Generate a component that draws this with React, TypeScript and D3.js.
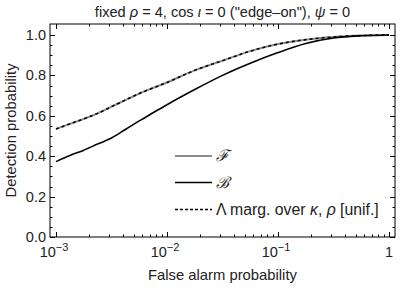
import React, { useEffect, useRef } from "react";
import * as d3 from "d3";

// log10 of the false alarm probability where curves were read
const logFap = [-3, -2.875, -2.75, -2.625, -2.5, -2.375, -2.25, -2.125, -2, -1.75, -1.5, -1.25, -1, -0.75, -0.5, -0.25, 0];
const fStat = [0.535, 0.56, 0.585, 0.612, 0.645, 0.678, 0.71, 0.738, 0.765, 0.825, 0.873, 0.92, 0.955, 0.977, 0.99, 0.997, 1.0];
const bStat = [0.373, 0.403, 0.43, 0.46, 0.49, 0.532, 0.575, 0.615, 0.655, 0.73, 0.8, 0.86, 0.913, 0.958, 0.985, 0.996, 1.0];
const lambdaStat = [0.535, 0.56, 0.585, 0.612, 0.645, 0.678, 0.71, 0.738, 0.765, 0.825, 0.873, 0.92, 0.955, 0.977, 0.99, 0.997, 1.0];

const yTicks = [0, 0.2, 0.4, 0.6, 0.8, 1.0];
const xTicks = [1e-3, 1e-2, 1e-1, 1];
const xTickExp = ["-3", "-2", "-1", ""];

function App() {
  const ref = useRef<SVGSVGElement>(null);
  useEffect(() => {
    const svg = d3.select(ref.current);
    svg.selectAll("*").remove();
    const font = "'Liberation Sans', Arial, sans-serif";
    const left = 50, right = 395, top = 24, bottom = 237;

    const x = d3.scaleLog().domain([1e-3, 1]).range([56, 389]);
    const y = d3.scaleLinear().domain([0, 1]).range([237, 35]);

    const g = svg.append("g");

    // frame
    g.append("rect")
      .attr("x", left).attr("y", top)
      .attr("width", right - left).attr("height", bottom - top)
      .attr("fill", "none").attr("stroke", "#000").attr("stroke-width", 1);

    // x ticks (bottom and top), inward
    const minorX: number[] = [];
    for (let e = -3; e < 0; e++) {
      for (let k = 2; k <= 9; k++) minorX.push(k * Math.pow(10, e));
    }
    [...xTicks.map(v => [v, 5]), ...minorX.map(v => [v, 2.5])].forEach(([v, len]) => {
      const px = Math.round(x(v)) + 0.5;
      g.append("line").attr("x1", px).attr("x2", px).attr("y1", bottom).attr("y2", bottom - len)
        .attr("stroke", "#000").attr("stroke-width", 1);
      g.append("line").attr("x1", px).attr("x2", px).attr("y1", top).attr("y2", top + len)
        .attr("stroke", "#000").attr("stroke-width", 1);
    });

    // y ticks (left and right), inward
    d3.range(0, 1.0001, 0.05).forEach(v => {
      const major = Math.abs(v * 5 - Math.round(v * 5)) < 1e-6;
      const len = major ? 5 : 2.5;
      const py = Math.round(y(v)) + 0.5;
      g.append("line").attr("x1", left).attr("x2", left + len).attr("y1", py).attr("y2", py)
        .attr("stroke", "#000");
      g.append("line").attr("x1", right).attr("x2", right - len).attr("y1", py).attr("y2", py)
        .attr("stroke", "#000");
    });

    // y tick labels
    yTicks.forEach(v => {
      g.append("text").attr("x", left - 4).attr("y", y(v) + 5)
        .attr("text-anchor", "end").attr("font-family", font).attr("font-size", 14.5)
        .attr("fill", "#222").text(v.toFixed(1));
    });

    // x tick labels
    xTicks.forEach((v, i) => {
      const t = g.append("text").attr("y", 257).attr("font-family", font).attr("font-size", 14.5)
        .attr("fill", "#222");
      if (xTickExp[i]) {
        t.attr("x", x(v) - 2).attr("text-anchor", "middle");
        t.append("tspan").text("10");
        t.append("tspan").attr("dy", -6).attr("font-size", 11).text("\u2212" + xTickExp[i].slice(1));
      } else {
        t.attr("x", x(v)).attr("text-anchor", "middle").text("1");
      }
    });

    // axis labels and title
    g.append("text").attr("x", (left + right) / 2).attr("y", 280)
      .attr("text-anchor", "middle").attr("font-family", font).attr("font-size", 14.8)
      .attr("fill", "#222").text("False alarm probability");
    g.append("text").attr("transform", `translate(16, ${(top + bottom) / 2}) rotate(-90)`)
      .attr("text-anchor", "middle").attr("font-family", font).attr("font-size", 14.8)
      .attr("fill", "#222").text("Detection probability");
    const title = g.append("text").attr("x", (left + right) / 2).attr("y", 17)
      .attr("text-anchor", "middle").attr("font-family", font).attr("font-size", 14.6)
      .attr("fill", "#222");
    title.append("tspan").text("fixed ");
    title.append("tspan").attr("font-style", "italic").text("\u03C1");
    title.append("tspan").text(" = 4, cos ");
    title.append("tspan").attr("font-style", "italic").text("\u03B9");
    title.append("tspan").text(" = 0 (\"edge\u2013on\"), ");
    title.append("tspan").attr("font-style", "italic").text("\u03C8");
    title.append("tspan").text(" = 0");

    // curves
    const line = d3.line<[number, number]>()
      .x(d => x(Math.pow(10, d[0])))
      .y(d => y(d[1]))
      .curve(d3.curveMonotoneX);
    const series = (vals: number[]) => logFap.map((l, i) => [l, vals[i]] as [number, number]);

    g.append("path").attr("d", line(series(fStat))).attr("fill", "none")
      .attr("stroke", "#8c8c8c").attr("stroke-width", 2);
    g.append("path").attr("d", line(series(bStat))).attr("fill", "none")
      .attr("stroke", "#000").attr("stroke-width", 1.6);
    g.append("path").attr("d", line(series(lambdaStat))).attr("fill", "none")
      .attr("stroke", "#000").attr("stroke-width", 1.6).attr("stroke-dasharray", "3,3");

    // legend
    const legend = [
      { y: 156, stroke: "#8c8c8c", dash: null as string | null, label: "\u2131", script: true },
      { y: 182.5, stroke: "#000", dash: null, label: "\u212C", script: true },
      { y: 209.5, stroke: "#000", dash: "3,2", label: "", script: false },
    ];
    legend.forEach(item => {
      g.append("line").attr("x1", 175).attr("x2", 212).attr("y1", item.y).attr("y2", item.y)
        .attr("stroke", item.stroke).attr("stroke-width", item.stroke === "#000" ? 1.6 : 2.2)
        .attr("stroke-dasharray", item.dash);
      const t = g.append("text").attr("x", 216).attr("y", item.y + 5)
        .attr("font-family", font).attr("font-size", 15.8).attr("fill", "#222");
      if (item.script) {
        t.attr("font-family", "'DejaVu Serif', serif").attr("font-style", "italic").text(item.label);
      } else {
        t.append("tspan").text("\u039B marg. over ");
        t.append("tspan").attr("font-style", "italic").text("\u03BA");
        t.append("tspan").text(", ");
        t.append("tspan").attr("font-style", "italic").text("\u03C1");
        t.append("tspan").text(" [unif.]");
      }
    });
  }, []);

  return (
    <div style={{ position: "absolute", left: 0, top: 0 }}>
      <svg ref={ref} width={400} height={289} style={{ display: "block", background: "#fff" }} />
    </div>
  );
}

export default App;
